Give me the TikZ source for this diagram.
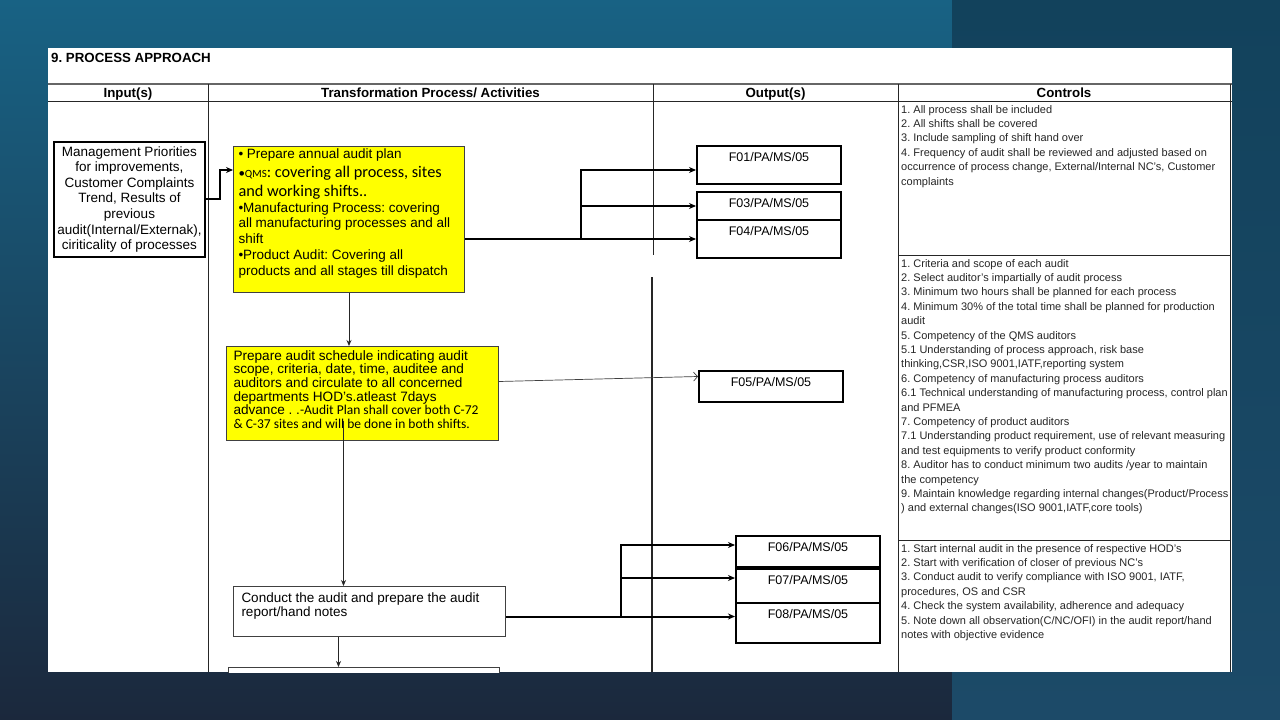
\documentclass[tikz,border=0pt]{standalone}
\usepackage{fontspec}
\setmainfont{Liberation Sans}
\newfontfamily\calibri{Carlito}
\usetikzlibrary{arrows.meta}
\definecolor{slidetop}{RGB}{24,98,132}
\definecolor{slidebot}{RGB}{27,40,60}
\definecolor{stripetop}{RGB}{18,66,92}
\definecolor{stripebot}{RGB}{28,74,104}
\definecolor{planyellow}{RGB}{255,255,0}
\frenchspacing
\begin{document}
\begin{tikzpicture}[x=1pt, y=-1pt,
    flow/.style={-{Stealth[length=7pt,width=6pt]}, line width=2pt},
    thinflow/.style={-{Stealth[length=6pt,width=5pt]}, line width=0.9pt, black!85},
    tabline/.style={line width=0.9pt, black!85},
    hdr/.style={anchor=base, inner sep=0pt, font=\bfseries\fontsize{13.3}{15}\selectfont},
    inbox/.style={draw, line width=2pt, fill=white, align=center, inner sep=0pt,
      minimum width=151pt, minimum height=115pt, anchor=north west,
      font=\fontsize{13.5}{15.6}\selectfont},
    actbox/.style={draw=black!75, line width=1pt, fill=planyellow, anchor=north west},
    taskbox/.style={draw=black!75, line width=1pt, fill=white, anchor=north west},
    outbox/.style={draw, line width=2pt, fill=white, anchor=north west, inner sep=0pt,
      minimum width=144pt, text height=15pt, text depth=#1,
      font=\fontsize{12.5}{14}\selectfont},
    ctrl/.style={anchor=north west, align=left, inner sep=0pt, text=black!85,
      font=\fontsize{11}{14.4}\selectfont}]
  \useasboundingbox (0,0) rectangle (1280,720);

  % 1. Slide background
  \fill[top color=slidetop, bottom color=slidebot] (0,0) rectangle (952,720);
  \fill[top color=stripetop, bottom color=stripebot] (952,0) rectangle (1280,720);

  \begin{scope}
  \clip (48,48) rectangle (1232,672);
  \fill[white] (48,48) rectangle (1232,672);

  % 2. Table frame
  \node (title) [hdr, anchor=base west] at (51,62) {9. PROCESS APPROACH};
  \draw[tabline, black!60, line width=1.2pt] (48,84) -- (1232,84);
  \draw[tabline] (48,101) -- (1232,101);
  \draw[tabline] (208,84) -- (208,672);
  \draw[tabline] (653,84) -- (653,255);
  \draw[tabline, line width=1.4pt] (652,277) -- (652,672);
  \draw[tabline] (898,84) -- (898,672);
  \draw[tabline] (1230,84) -- (1230,672);
  \draw[tabline] (898,255) -- (1230,255);
  \draw[tabline] (898,540) -- (1230,540);

  \node (hin) [hdr] at (128,97.7) {Input(s)};
  \node (hact) [hdr] at (430.5,97.7) {Transformation Process/ Activities};
  \node (hout) [hdr] at (775.5,97.7) {Output(s)};
  \node (hctl) [hdr] at (1064,97.7) {Controls};

  % 3. Input and activities
  \node (inp) [inbox] at (53,141) {Management Priorities\\ for improvements,\\ Customer Complaints\\ Trend, Results of\\ previous\\ audit(Internal/Externak),\\ ciriticality of processes};

  \node (plan) [actbox, inner xsep=5pt, inner ysep=2pt] at (233,146) {\parbox[c][142pt][t]{221pt}{%
    {\fontsize{13.5}{15.7}\selectfont \textbullet\ Prepare annual audit plan\par}
    {\calibri\fontsize{16.3}{19}\selectfont {\fontsize{13}{13}\selectfont\textbullet}{\fontsize{11}{13}\selectfont QMS}: covering all process, sites\\ and working shifts..\par}
    {\fontsize{13.5}{15.8}\selectfont \textbullet Manufacturing Process: covering\\ all manufacturing processes and all\\ shift\\ \textbullet Product Audit: Covering all\\ products and all stages till dispatch\par}}};

  \node (sched) [actbox, inner xsep=7pt, inner ysep=4pt] at (226,346) {\parbox[c][86pt][t]{258pt}{%
    {\fontsize{13.6}{13.6}\selectfont Prepare audit schedule indicating audit\\ scope, criteria, date, time, auditee and\\ auditors and circulate to all concerned\\ departments HOD's.atleast 7days\\ advance . .{\calibri\fontsize{13.5}{13.6}\selectfont -Audit Plan shall cover both C-72}\\ {\calibri\fontsize{13.5}{13.6}\selectfont \& C-37 sites and will be done in both shifts.}\par}}};

  \node (conduct) [taskbox, inner xsep=8pt, inner ysep=6pt] at (233,586) {\parbox[c][38pt][t]{256pt}{%
    {\fontsize{13.5}{14}\selectfont Conduct the audit and prepare the audit\\ report/hand notes\par}}};

  \node (ncbox) [taskbox, minimum width=271pt, minimum height=40pt] at (228,667) {};

  % 4. Output records
  \node (f01) [outbox=23pt] at (696,145) {F01/PA/MS/05};
  \node (f03) [outbox=13pt] at (696,191) {F03/PA/MS/05};
  \node (f04) [outbox=23pt] at (696,219) {F04/PA/MS/05};
  \node (f05) [outbox=16pt] at (698,370) {F05/PA/MS/05};
  \node (f06) [outbox=16pt] at (735,535) {F06/PA/MS/05};
  \node (f07) [outbox=19pt] at (735,568) {F07/PA/MS/05};
  \node (f08) [outbox=25pt] at (735,602) {F08/PA/MS/05};

  % 5. Controls
  \node (ctl1) [ctrl] at (901,105) {1. All process shall be included\\
    2. All shifts shall be covered\\
    3. Include sampling of shift hand over\\
    4. Frequency of audit shall be reviewed and adjusted based on\\
    occurrence of process change, External/Internal NC's, Customer\\
    complaints};
  \node (ctl2) [ctrl] at (901,259) {1. Criteria and scope of each audit\\
    2. Select auditor's impartially of audit process\\
    3. Minimum two hours shall be planned for each process\\
    4. Minimum 30\% of the total time shall be planned for production\\
    audit\\
    5. Competency of the QMS auditors\\
    5.1 Understanding of process approach, risk base\\
    thinking,CSR,ISO 9001,IATF,reporting system\\
    6. Competency of manufacturing process auditors\\
    6.1 Technical understanding of manufacturing process, control plan\\
    and PFMEA\\
    7. Competency of product auditors\\
    7.1 Understanding product requirement, use of relevant measuring\\
    and test equipments to verify product conformity\\
    8. Auditor has to conduct minimum two audits /year to maintain\\
    the competency\\
    9. Maintain knowledge regarding internal changes(Product/Process\\
    ) and external changes(ISO 9001,IATF,core tools)};
  \node (ctl3) [ctrl] at (901,544) {1. Start internal audit in the presence of respective HOD's\\
    2. Start with verification of closer of previous NC's\\
    3. Conduct audit to verify compliance with ISO 9001, IATF,\\
    procedures, OS and CSR\\
    4. Check the system availability, adherence and adequacy\\
    5. Note down all observation(C/NC/OFI) in the audit report/hand\\
    notes with objective evidence};

  % 6. Connectors
  \draw[flow] ([yshift=1pt]inp.east) -- ++(14,0) |- ([yshift=-24pt]plan.north west);

  \draw[flow] (plan.east |- f04.west) -- (f04.west) coordinate[pos=.5] (fork1);
  \draw[flow] (fork1) |- ([yshift=-25pt]f01.north west);
  \draw[flow] (fork1) |- (f03.west);

  \draw[thinflow] (plan.south) -- (plan.south |- sched.north);
  \draw[-{Straight Barb[length=4pt,width=9pt]}, line width=0.7pt, black!75] ([yshift=12pt]sched.east) -- ([yshift=10pt]f05.west);
  \draw[thinflow] ([xshift=-19pt, yshift=20pt]sched.south) -- ([xshift=-26pt]conduct.north);

  \draw[flow] ([yshift=-5pt]conduct.east) coordinate (c0) -- (c0 -| f08.west) coordinate[pos=.5] (fork2);
  \draw[flow] (fork2) |- ([yshift=-10pt]f06.north west);
  \draw[flow] (fork2) |- ([yshift=-10pt]f07.north west);

  \draw[thinflow] ([xshift=-31pt]conduct.south) -- ([xshift=-31pt]conduct.south |- ncbox.north);
  \end{scope}
\end{tikzpicture}
\end{document}
